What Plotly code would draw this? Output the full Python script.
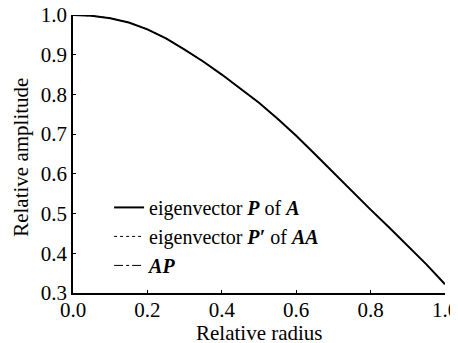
import plotly.graph_objects as go

radius = [0.0, 0.05, 0.1, 0.15, 0.2, 0.25, 0.3, 0.35, 0.4, 0.45, 0.5,
          0.55, 0.6, 0.65, 0.7, 0.75, 0.8, 0.85, 0.9, 0.95, 1.0]
eig_P_of_A = [1.0, 0.998, 0.992, 0.981, 0.964, 0.941, 0.913, 0.883, 0.850, 0.815, 0.779,
              0.739, 0.696, 0.650, 0.603, 0.556, 0.510, 0.465, 0.419, 0.372, 0.322]
eig_Pp_of_AA = list(eig_P_of_A)
AP = list(eig_P_of_A)

xticks = [0.0, 0.2, 0.4, 0.6, 0.8, 1.0]
yticks = [0.3, 0.4, 0.5, 0.6, 0.7, 0.8, 0.9, 1.0]
x_title = "Relative radius"
y_title = "Relative amplitude"

FONT = "Liberation Serif, Times New Roman, serif"

fig = go.Figure()
fig.add_trace(go.Scatter(x=radius, y=eig_P_of_A, mode="lines",
                         line=dict(color="black", width=2, dash="solid"),
                         name="eigenvector <b><i>P</i></b> of <b><i>A</i></b>"))
fig.add_trace(go.Scatter(x=radius, y=eig_Pp_of_AA, mode="lines",
                         line=dict(color="black", width=1, dash="dot"),
                         name="eigenvector <b><i>P′</i></b> of <b><i>AA</i></b>"))
fig.add_trace(go.Scatter(x=radius, y=AP, mode="lines",
                         line=dict(color="black", width=1, dash="dashdot"),
                         name="<b><i>AP</i></b>"))

# page has an 8px body margin, so the figure is 8px smaller and margins shifted
fig.update_layout(
    width=450, height=335,
    margin=dict(l=65, r=13, t=7, b=50),
    plot_bgcolor="white", paper_bgcolor="white",
    font=dict(family=FONT, size=21, color="black"),
    legend=dict(x=0.097, y=0.378, xanchor="left", yanchor="top",
                font=dict(family=FONT, size=20, color="black"),
                bgcolor="rgba(0,0,0,0)", tracegroupgap=0,
                itemwidth=30),
    showlegend=True,
    annotations=[
        dict(text=x_title, xref="paper", yref="paper", x=0.5, y=-0.144,
             xanchor="center", yanchor="middle", showarrow=False,
             font=dict(family=FONT, size=21, color="black")),
        dict(text=y_title, xref="paper", yref="paper", x=-0.142, y=0.487,
             xanchor="center", yanchor="middle", showarrow=False, textangle=-90,
             font=dict(family=FONT, size=21, color="black")),
    ],
)
fig.update_xaxes(range=[0, 1.0], tickvals=xticks, ticktext=[f"{v:.1f}" for v in xticks],
                 showgrid=False, zeroline=False, showline=True, linecolor="black",
                 linewidth=1.5, ticks="inside", ticklen=3, tickcolor="black",
                 automargin=False, ticklabeloverflow="allow", ticklabelstandoff=-3,
                 tickfont=dict(family=FONT, size=21))
fig.update_yaxes(range=[0.3, 1.0], tickvals=yticks, ticktext=[f"{v:.1f}" for v in yticks],
                 showgrid=False, zeroline=False, showline=True, linecolor="black",
                 linewidth=1.5, ticks="inside", ticklen=3, tickcolor="black",
                 automargin=False, ticklabeloverflow="allow",
                 tickfont=dict(family=FONT, size=21))

fig.write_html("out.html")
